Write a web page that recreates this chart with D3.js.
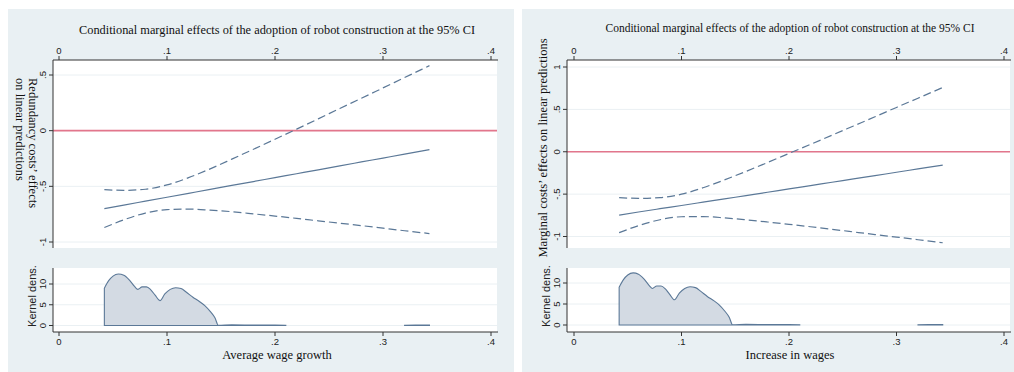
<!DOCTYPE html>
<html>
<head>
<meta charset="utf-8">
<script src="https://cdn.jsdelivr.net/npm/d3@7"></script>
<style>
  body { margin: 0; background: #fff; }
  .tick-lab { font-family: "Liberation Sans", Arial, sans-serif; font-size: 9.5px; fill: #222; }
  .serif { font-family: "Liberation Serif", "Times New Roman", serif; fill: #111; }
</style>
</head>
<body>
<div id="chartEl"></div>
<script>
// values
const xGrid = [0.042, 0.06, 0.08, 0.10, 0.12, 0.14, 0.16, 0.18, 0.20, 0.22, 0.24, 0.26, 0.28, 0.30, 0.32, 0.343];

const redEst   = [-0.700, -0.668, -0.633, -0.598, -0.563, -0.528, -0.492, -0.457, -0.422, -0.387, -0.352, -0.316, -0.281, -0.246, -0.211, -0.170];
const redUpper = [-0.530, -0.536, -0.526, -0.487, -0.422, -0.343, -0.256, -0.167, -0.077, 0.014, 0.106, 0.199, 0.291, 0.384, 0.477, 0.584];
const redLower = [-0.870, -0.801, -0.740, -0.709, -0.704, -0.714, -0.728, -0.747, -0.767, -0.788, -0.810, -0.831, -0.853, -0.876, -0.899, -0.924];

const margEst   = [-0.748, -0.711, -0.672, -0.634, -0.595, -0.556, -0.517, -0.478, -0.438, -0.399, -0.360, -0.321, -0.282, -0.242, -0.203, -0.158];
const margUpper = [-0.541, -0.550, -0.542, -0.501, -0.425, -0.332, -0.232, -0.127, -0.020, 0.087, 0.195, 0.304, 0.413, 0.523, 0.632, 0.758];
const margLower = [-0.955, -0.872, -0.802, -0.767, -0.765, -0.780, -0.803, -0.829, -0.856, -0.885, -0.915, -0.946, -0.977, -1.007, -1.038, -1.074];

// kernel density of the moderator (same in both panels), null = not drawn
const densX = [0.042, 0.046, 0.050, 0.055, 0.060, 0.065, 0.070, 0.073, 0.077, 0.081, 0.085, 0.089, 0.0935, 0.098, 0.103, 0.108, 0.113, 0.118, 0.124, 0.130, 0.135, 0.140, 0.1445, 0.1475, 0.16, 0.18, 0.20, 0.21, 0.25, 0.32, 0.33, 0.343];
const densY = [9.0, 10.8, 11.9, 12.4, 12.1, 11.0, 9.4, 8.7, 9.3, 9.3, 8.6, 7.3, 6.0, 7.6, 8.7, 9.1, 8.9, 8.0, 6.8, 5.8, 4.8, 3.4, 1.8, 0.05, 0.15, 0.1, 0.08, 0.03, null, 0.05, 0.1, 0.1];

const xTicks = [0, 0.1, 0.2, 0.3, 0.4];
const redYTicks = [0.5, 0, -0.5, -1];
const margYTicks = [1, 0.5, 0, -0.5, -1];
const densTicks = [0, 5, 10];

const titleText = 'Conditional marginal effects of the adoption of robot construction at the 95% CI';

const lineColor = '#5b7897';
const refColor = '#e2768c';
const bgColor = '#e9f0f3';
const gridColor = '#eaf0f3';

const fmt = d => d === 0 ? '0' : String(d).replace('0.', '.');

const svg = d3.select('#chartEl').append('svg')
  .attr('width', 1014)
  .attr('height', 372);

function drawPanel (p) {
  const g = svg.append('g');

  g.append('rect')
    .attr('x', p.bx).attr('y', 9)
    .attr('width', p.bw).attr('height', 363)
    .attr('fill', bgColor);

  const x = d3.scaleLinear().domain([0, 0.4]).range(p.xRange);
  const y = d3.scaleLinear().domain(p.yDomain).range(p.yRange);
  const yd = d3.scaleLinear().domain([0, 10]).range(p.dRange);

  // plot regions
  g.append('rect').attr('x', p.px0).attr('y', 60).attr('width', p.px1 - p.px0).attr('height', 188).attr('fill', '#fff');
  g.append('rect').attr('x', p.px0).attr('y', 268).attr('width', p.px1 - p.px0).attr('height', 64).attr('fill', '#fff');

  // grid
  g.selectAll('.gy').data(p.yTicks).enter().append('line')
    .attr('x1', p.px0).attr('x2', p.px1)
    .attr('y1', d => y(d)).attr('y2', d => y(d))
    .attr('stroke', gridColor).attr('stroke-width', 1);
  g.selectAll('.gd').data(densTicks).enter().append('line')
    .attr('x1', p.px0).attr('x2', p.px1)
    .attr('y1', d => yd(d)).attr('y2', d => yd(d))
    .attr('stroke', gridColor).attr('stroke-width', 1);

  // reference line at zero
  g.append('line')
    .attr('x1', p.px0).attr('x2', p.px1)
    .attr('y1', y(0)).attr('y2', y(0))
    .attr('stroke', refColor).attr('stroke-width', 1.6);

  const pts = arr => xGrid.map((v, i) => [v, arr[i]]);
  const line = d3.line().x(d => x(d[0])).y(d => y(d[1])).curve(d3.curveMonotoneX);

  g.append('path').attr('d', line(pts(p.upper)))
    .attr('fill', 'none').attr('stroke', lineColor).attr('stroke-width', 1.2).attr('stroke-dasharray', '8,4');
  g.append('path').attr('d', line(pts(p.lower)))
    .attr('fill', 'none').attr('stroke', lineColor).attr('stroke-width', 1.2).attr('stroke-dasharray', '8,4');
  g.append('path').attr('d', line(pts(p.est)))
    .attr('fill', 'none').attr('stroke', lineColor).attr('stroke-width', 1.2);

  // density
  const dens = densX.map((v, i) => [v, densY[i]]);
  const area = d3.area()
    .defined(d => d[1] !== null)
    .x(d => x(d[0])).y0(yd(0)).y1(d => yd(d[1]))
    .curve(d3.curveMonotoneX);
  g.append('path').attr('d', area(dens))
    .attr('fill', '#d3dae3').attr('stroke', lineColor).attr('stroke-width', 1.1);

  // top axis
  g.append('line').attr('x1', p.px0).attr('x2', p.px1 + 1).attr('y1', 60).attr('y2', 60)
    .attr('stroke', '#333').attr('stroke-width', 1);
  g.selectAll('.tt').data(xTicks).enter().append('line')
    .attr('x1', d => x(d)).attr('x2', d => x(d)).attr('y1', 56).attr('y2', 60)
    .attr('stroke', '#333');
  g.selectAll('.tl').data(xTicks).enter().append('text')
    .attr('class', 'tick-lab')
    .attr('x', d => x(d)).attr('y', 53.5)
    .attr('text-anchor', 'middle')
    .text(fmt);

  // bottom axis
  g.append('line').attr('x1', p.px0).attr('x2', p.px1 + 1).attr('y1', 332).attr('y2', 332)
    .attr('stroke', '#333').attr('stroke-width', 1);
  g.selectAll('.bt').data(xTicks).enter().append('line')
    .attr('x1', d => x(d)).attr('x2', d => x(d)).attr('y1', 332).attr('y2', 336)
    .attr('stroke', '#333');
  g.selectAll('.bl').data(xTicks).enter().append('text')
    .attr('class', 'tick-lab')
    .attr('x', d => x(d)).attr('y', 345)
    .attr('text-anchor', 'middle')
    .text(fmt);

  // left axes
  g.append('line').attr('x1', p.px0).attr('x2', p.px0).attr('y1', 60).attr('y2', 248)
    .attr('stroke', '#333');
  g.append('line').attr('x1', p.px0).attr('x2', p.px0).attr('y1', 268).attr('y2', 332)
    .attr('stroke', '#333');
  g.selectAll('.yt').data(p.yTicks).enter().append('line')
    .attr('x1', p.px0 - 4).attr('x2', p.px0).attr('y1', d => y(d)).attr('y2', d => y(d))
    .attr('stroke', '#333');
  g.selectAll('.yl').data(p.yTicks).enter().append('text')
    .attr('class', 'tick-lab')
    .attr('transform', d => 'translate(' + (p.px0 - 10) + ',' + y(d) + ') rotate(-90)')
    .attr('text-anchor', 'middle').attr('dy', '0.35em')
    .text(fmt);
  g.selectAll('.dt').data(densTicks).enter().append('line')
    .attr('x1', p.px0 - 4).attr('x2', p.px0).attr('y1', d => yd(d)).attr('y2', d => yd(d))
    .attr('stroke', '#333');
  g.selectAll('.dl').data(densTicks).enter().append('text')
    .attr('class', 'tick-lab')
    .attr('transform', d => 'translate(' + (p.px0 - 10) + ',' + yd(d) + ') rotate(-90)')
    .attr('text-anchor', 'middle').attr('dy', '0.35em')
    .text(fmt);
  g.append('text')
    .attr('class', 'tick-lab')
    .style('font-size', '11px')
    .attr('transform', 'translate(' + (p.px0 - 21) + ',296) rotate(-90)')
    .attr('text-anchor', 'middle').attr('dy', '0.35em')
    .text('Kernel dens.');

  // titles
  g.append('text')
    .attr('class', 'serif')
    .style('font-size', p.titleSize + 'px')
    .attr('x', p.titleX).attr('y', p.titleY)
    .attr('text-anchor', 'middle')
    .attr('textLength', p.titleLen).attr('lengthAdjust', 'spacingAndGlyphs')
    .text(titleText);
  g.append('text')
    .attr('class', 'serif')
    .style('font-size', '12.5px')
    .attr('x', p.titleX).attr('y', 358.5)
    .attr('text-anchor', 'middle')
    .text(p.xTitle);

  p.yTitle(g);
}

drawPanel({
  bx: 8, bw: 506,
  px0: 53, px1: 497,
  xRange: [59, 491],
  yDomain: [-1, 0.5], yRange: [242, 75],
  dRange: [325.5, 284],
  yTicks: redYTicks,
  est: redEst, upper: redUpper, lower: redLower,
  titleX: 277, titleY: 34, titleSize: 13, titleLen: 396,
  xTitle: 'Average wage growth',
  yTitle: g => {
    const t = g.append('text')
      .attr('class', 'serif')
      .style('font-size', '12.5px')
      .attr('transform', 'translate(29,78) rotate(90)');
    t.append('tspan').attr('x', 0).attr('y', 0).text('Redundancy costs\u2019 effects');
    t.append('tspan').attr('x', 0).attr('y', 13).text('on linear predictions');
  }
});

drawPanel({
  bx: 522, bw: 492,
  px0: 567, px1: 1010,
  xRange: [574, 1004],
  yDomain: [-1, 1], yRange: [236.5, 67],
  dRange: [325, 283],
  yTicks: margYTicks,
  est: margEst, upper: margUpper, lower: margLower,
  titleX: 790, titleY: 32, titleSize: 12, titleLen: 369,
  xTitle: 'Increase in wages',
  yTitle: g => {
    g.append('text')
      .attr('class', 'serif')
      .style('font-size', '12.5px')
      .attr('transform', 'translate(547,148) rotate(-90)')
      .attr('text-anchor', 'middle')
      .text('Marginal costs\u2019 effects on linear predictions');
  }
});
</script>
</body>
</html>
